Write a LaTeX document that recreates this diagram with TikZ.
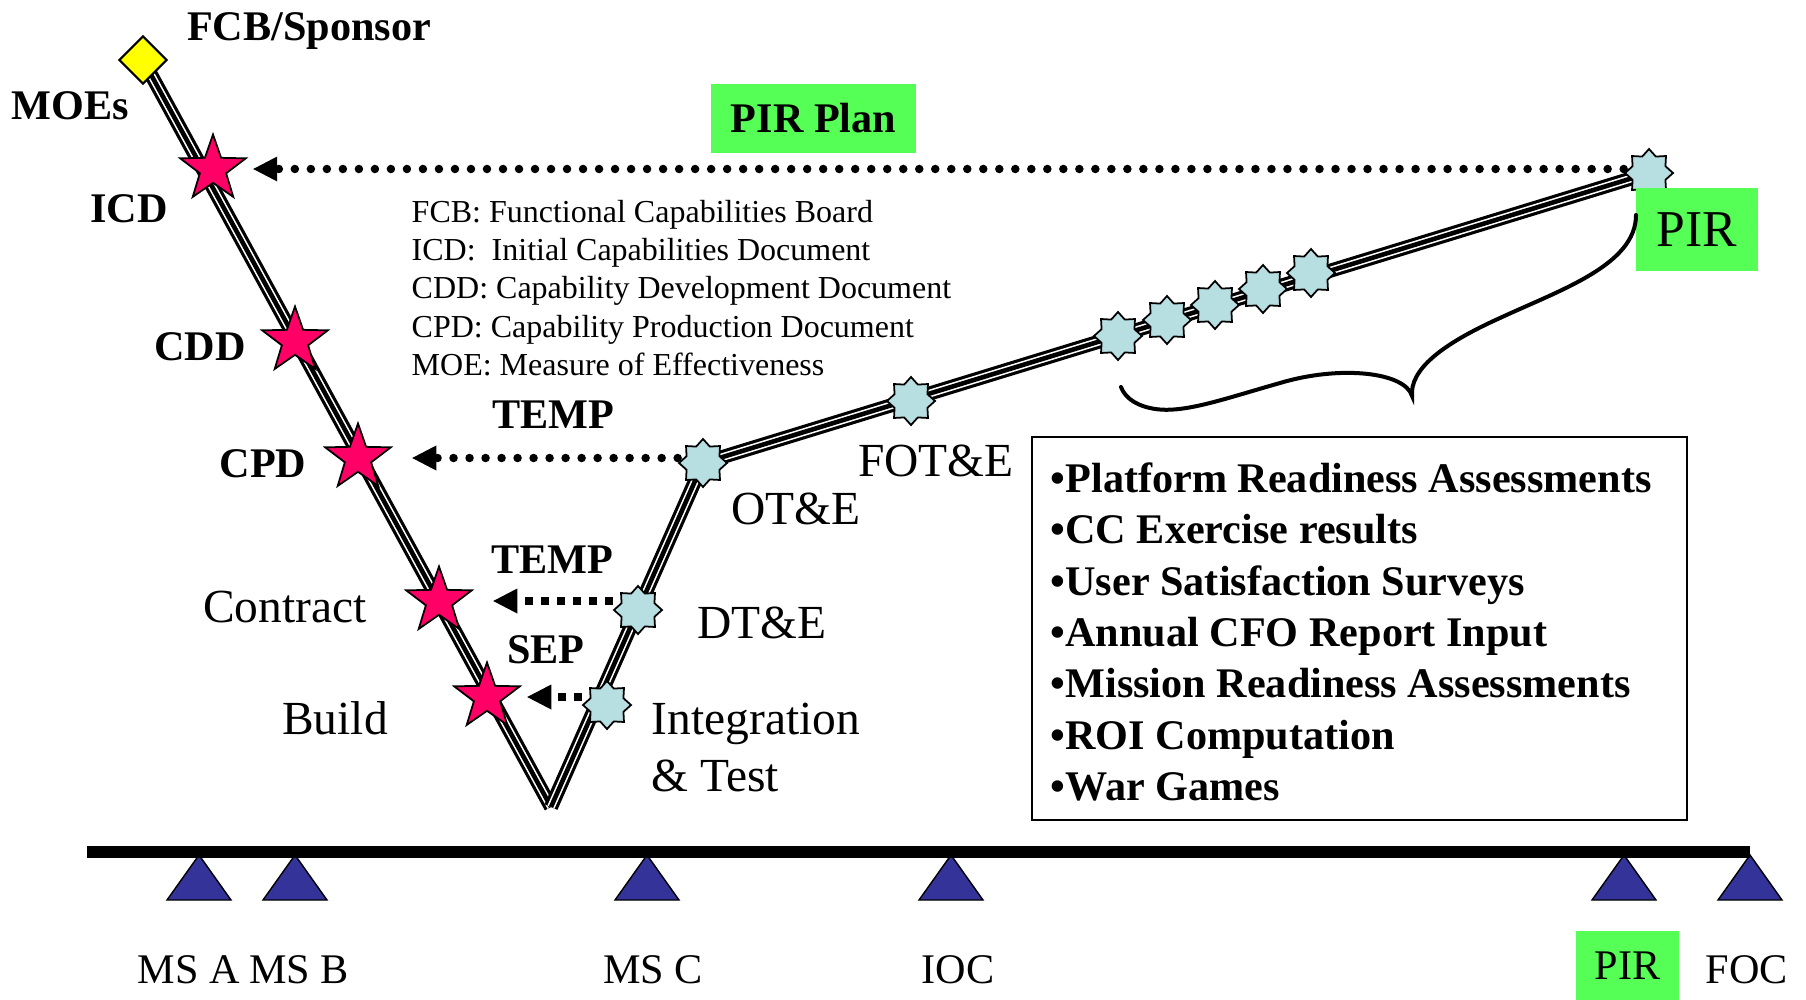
\documentclass[tikz,border=0pt]{standalone}
\usepackage{fontspec}
\setmainfont{Liberation Serif}
\usetikzlibrary{shapes.geometric,arrows.meta}
\definecolor{starred}{RGB}{255,0,102}
\definecolor{starblue}{RGB}{183,222,225}
\definecolor{boxgreen}{RGB}{85,255,85}
\definecolor{triblue}{RGB}{51,51,153}
\definecolor{diamyellow}{RGB}{255,255,0}
\pgfdeclarelayer{bg}
\pgfdeclarelayer{paper}
\pgfsetlayers{paper,bg,main}
\newcommand{\fbold}{\fontsize{12}{14}\selectfont\bfseries}
\newcommand{\freg}{\fontsize{13.5}{16}\selectfont}
\newcommand{\fsmall}{\fontsize{9.1}{11}\selectfont}
\newcommand{\fbot}{\fontsize{12}{14}\selectfont}
\begin{document}
\begin{tikzpicture}[x=0.01cm,y=-0.01cm,
  redstar/.style={star,star points=5,star point ratio=2.5,minimum size=0.69cm,inner sep=0pt,fill=starred,draw=black,line width=0.5pt},
  bluestar/.style={star,star points=8,star point ratio=1.35,minimum size=0.48cm,inner sep=0pt,fill=starblue,draw=black,line width=0.5pt},
  vline/.style={line width=4.0pt,draw=black,line join=round,postaction={draw=white,line width=2.2pt},postaction={draw=black,line width=1.3pt}},
  tip/.style={-{Triangle[length=0.24cm,width=0.25cm,line width=0pt]}},
  dotarrow/.style={line width=0.085cm,dash pattern=on 0pt off 0.16cm,line cap=round,tip},
  dasharrow/.style={line width=0.08cm,dash pattern=on 0.08cm off 0.08cm,tip},
  lblb/.style={font=\fbold,inner sep=0pt,anchor=base},
  lblr/.style={font=\freg,inner sep=0pt,anchor=base},
  lbls/.style={font=\fsmall,inner sep=0pt,anchor=base west},
  lblbot/.style={font=\fbot,inner sep=0pt,anchor=base},
  bullet/.style={font=\fbold,inner sep=0pt,anchor=base west},
  greenbox/.style={fill=boxgreen,inner sep=0pt},
  tri/.style={fill=triblue,draw=black,line width=0.4pt,line join=miter}
]
\begin{pgfonlayer}{paper}
\fill[white] (0,0) rectangle (1806,1000);
\end{pgfonlayer}
\useasboundingbox (0,0) rectangle (1806,1000);

% diamond and stars
\node[diamond,minimum width=0.48cm,minimum height=0.48cm,inner sep=0pt,fill=diamyellow,draw=black,line width=0.6pt] (moe) at (143,60) {};
\coordinate (vbot) at (551,807);
\node[redstar] (icd) at (213,169) {};
\node[redstar] (cdd) at (295,341) {};
\node[redstar] (cpd) at (358,458) {};
\node[redstar] (contract) at (439,601) {};
\node[redstar] (build) at (487,697) {};
\node[bluestar] (integ) at (607,705) {};
\node[bluestar] (dte) at (638,610) {};
\node[bluestar] (ote) at (703,463) {};
\node[bluestar] (fote) at (911,401) {};
\node[bluestar] (c1) at (1118,336) {};
\node[bluestar] (c2) at (1167,320) {};
\node[bluestar] (c3) at (1215,305) {};
\node[bluestar] (c4) at (1263,289) {};
\node[bluestar] (c5) at (1311,273) {};
\node[bluestar] (pirstar) at (1649,173) {};

% the V
\begin{pgfonlayer}{bg}
\draw[vline] (moe.center) -- (vbot);
\draw[vline] (vbot) -- (ote.center) -- (pirstar.center);
\end{pgfonlayer}

% arrows
\draw[dotarrow,shorten >=0.2cm] (icd -| pirstar.west) -- (icd);
\draw[dotarrow,shorten >=0.34cm] (cpd -| ote.west) -- (cpd);
\draw[dasharrow,shorten >=0.34cm] (contract -| dte.west) -- (contract);
\draw[dasharrow,shorten >=0.2cm] (build -| integ.west) -- (build);

% labels
\node[lblb] (tfcb) at (309,41) {FCB/Sponsor};
\node[lblb] (tmoes) at (70,120) {MOEs};
\node[lblb] (ticd) at (129,222) {ICD};
\node[lblb] (tcdd) at (200,360) {CDD};
\node[lblb] (tcpd) at (263,477) {CPD};
\node[lblr] (tcontract) at (285,622) {Contract};
\node[lblr] (tbuild) at (335,734) {Build};
\node[lblb] (ttemp1) at (553,428) {TEMP};
\node[lblb] (ttemp2) at (552,573) {TEMP};
\node[lblb] (tsep) at (546,663) {SEP};
\node[lblr] (tote) at (796,524) {OT\&E};
\node[lblr] (tfote) at (936,476) {FOT\&E};
\node[lblr] (tdte) at (762,638) {DT\&E};
\node[lblr,anchor=base west] (tinteg) at (651,734) {Integration};
\node[lblr,anchor=base west] (ttest) at (651,791) {\& Test};

% legend
\node[lbls] (l1) at (411,222) {FCB: Functional Capabilities Board};
\node[lbls] (l2) at (411,260) {ICD:~ Initial Capabilities Document};
\node[lbls] (l3) at (411,298) {CDD: Capability Development Document};
\node[lbls] (l4) at (411,337) {CPD: Capability Production Document};
\node[lbls] (l5) at (411,375) {MOE: Measure of Effectiveness};

% green boxes
\node[greenbox,minimum width=2.05cm,minimum height=0.69cm,font=\fbold] (pirplan) at (813.5,118.5) {PIR Plan};
\node[greenbox,minimum width=1.22cm,minimum height=0.83cm,font=\fontsize{14.7}{17}\selectfont] (pirbox) at (1697,229.5) {PIR};

% brace
\draw[line width=0.04cm,line cap=round] (1636,215) .. controls (1636,265) and (1560,290) .. (1500,318)
  .. controls (1440,345) and (1410,370) .. (1412,396)
  .. controls (1405,372) and (1340,365) .. (1280,383)
  .. controls (1220,400) and (1180,415) .. (1150,408)
  .. controls (1132,404) and (1124,395) .. (1121,387);

% list box
\node[draw=black,line width=0.6pt,minimum width=6.55cm,minimum height=3.83cm,inner sep=0pt] (listbox) at (1359.5,628.5) {};
\node[bullet] (b1) at (1050,492) {•Platform Readiness Assessments};
\node[bullet] (b2) at (1050,543.5) {•CC Exercise results};
\node[bullet] (b3) at (1050,595) {•User Satisfaction Surveys};
\node[bullet] (b4) at (1050,646) {•Annual CFO Report Input};
\node[bullet] (b5) at (1050,697.5) {•Mission Readiness Assessments};
\node[bullet] (b6) at (1050,749) {•ROI Computation};
\node[bullet] (b7) at (1050,800) {•War Games};

% timeline
\foreach \tx in {199,295,647,951,1624,1750}
  \draw[tri] (\tx,855) -- ++(32,45) -- ++(-64,0) -- cycle;
\draw[line width=0.12cm] (87,852) -- (1750,852);

\node[lblbot] (msa) at (189,983) {MS A};
\node[lblbot] (msb) at (299,983) {MS B};
\node[lblbot] (msc) at (653,983) {MS C};
\node[lblbot] (ioc) at (958,983) {IOC};
\node[greenbox,minimum width=1.03cm,minimum height=0.69cm,font=\fbot] (pirbot) at (1627.5,966) {PIR};
\node[lblbot] (foc) at (1747,983) {FOC};
\end{tikzpicture}
\end{document}
